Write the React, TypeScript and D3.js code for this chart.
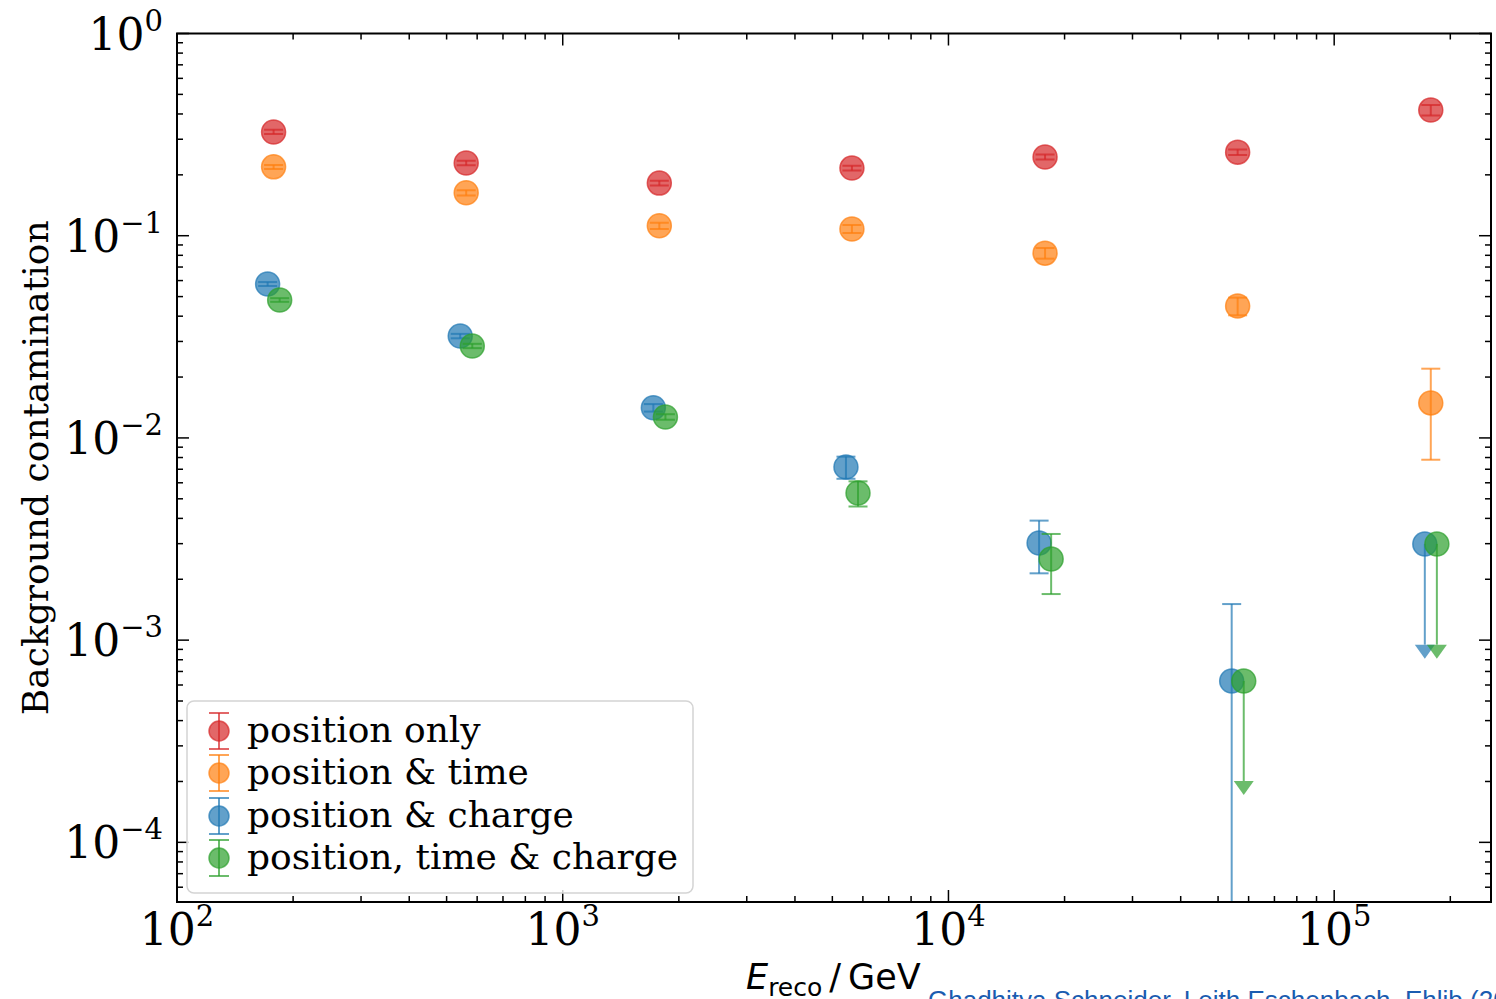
import React from "react";
import * as d3 from "d3";

// bin centres in GeV
const energies = [178, 562, 1780, 5620, 17800, 56200, 178000];

const seriesNames = [
  "position only",
  "position & time",
  "position & charge",
  "position, time & charge",
];
const seriesColors = ["#d62728", "#ff7f0e", "#1f77b4", "#2ca02c"];
// small horizontal offsets so the blue and green points do not overlap fully
const xShift = [1, 1, 0.965, 1.037];

const posOnly = [0.326, 0.229, 0.182, 0.216, 0.245, 0.259, 0.418];
const posOnlyErr = [0.008, 0.006, 0.005, 0.006, 0.007, 0.008, 0.025];

const posTime = [0.219, 0.163, 0.112, 0.108, 0.082, 0.0449, 0.0149];
const posTimeErr = [0.005, 0.005, 0.004, 0.005, 0.005, 0.0045, 0.0071];

const posCharge = [0.0577, 0.0319, 0.0141, 0.00718, 0.00302, 0.000628, 0.00299];
const posChargeErr = [0.0013, 0.0008, 0.0006, 0.0009, 0.00088, 0.00088, 0.00204];
const posChargeUL = [false, false, false, false, false, false, true];

const posTimeCharge = [0.0481, 0.0285, 0.0127, 0.00534, 0.00252, 0.000628, 0.00299];
const posTimeChargeErr = [0.001, 0.0007, 0.0004, 0.00076, 0.00083, 0.000427, 0.00204];
const posTimeChargeUL = [false, false, false, false, false, true, true];

const xTickExps = [2, 3, 4, 5];
const yTickExps = [0, -1, -2, -3, -4];

const series = [
  { vals: posOnly, errs: posOnlyErr, ul: posOnly.map(() => false) },
  { vals: posTime, errs: posTimeErr, ul: posTime.map(() => false) },
  { vals: posCharge, errs: posChargeErr, ul: posChargeUL },
  { vals: posTimeCharge, errs: posTimeChargeErr, ul: posTimeChargeUL },
];

const W = 1496;
const H = 999;
const left = 177;
const right = 1491;
const top = 33.5;
const bottom = 902;
const alpha = 0.7;

const x = d3.scaleLog().domain([100, 2.55e5]).range([left, right]);
const y = d3.scaleLog().domain([5.07e-5, 1]).range([bottom, top]);

const serif = "'DejaVu Serif', serif";
const sans = "'DejaVu Sans', sans-serif";
const expText = (e: number) => (e < 0 ? "\u2212" + -e : String(e));

function minorTicks(scale: d3.ScaleLogarithmic<number, number>) {
  const [a, b] = scale.domain();
  const out: number[] = [];
  for (let d = Math.floor(Math.log10(a)); d <= Math.ceil(Math.log10(b)); d++) {
    for (let k = 2; k <= 9; k++) {
      const v = k * Math.pow(10, d);
      if (v > a && v < b) out.push(v);
    }
  }
  return out;
}

function ErrorPoint({ cx, v, e, ul, color }: { cx: number; v: number; e: number; ul: boolean; color: string }) {
  const cy = y(v);
  const capW = 9.5;
  const ln = { stroke: color, strokeWidth: 2, strokeOpacity: alpha };
  const dot = (
    <circle cx={cx} cy={cy} r={12} fill={color} fillOpacity={alpha} stroke={color} strokeOpacity={alpha} strokeWidth={1.5} />
  );
  if (ul) {
    const ly = y(v - e);
    return (
      <g>
        <line x1={cx} x2={cx} y1={cy} y2={ly} {...ln} />
        <path d={`M${cx - 10},${ly}L${cx + 10},${ly}L${cx},${ly + 14}Z`} fill={color} fillOpacity={alpha} />
        {dot}
      </g>
    );
  }
  const hi = y(v + e);
  const lowVal = v - e;
  const lo = lowVal > 0 ? y(lowVal) : bottom + 50;
  return (
    <g>
      {dot}
      <line x1={cx} x2={cx} y1={hi} y2={lo} {...ln} />
      <line x1={cx - capW} x2={cx + capW} y1={hi} y2={hi} {...ln} />
      {lowVal > 0 && <line x1={cx - capW} x2={cx + capW} y1={lo} y2={lo} {...ln} />}
    </g>
  );
}

export default function App() {
  const xMinor = minorTicks(x);
  const yMinor = minorTicks(y);
  const legendRows = [731, 773, 816, 858];

  return (
    <svg
      width={W}
      height={H}
      style={{ position: "absolute", left: 0, top: 0, background: "#fff" }}
    >
      <defs>
        <clipPath id="plot">
          <rect x={left} y={top} width={right - left} height={bottom - top} />
        </clipPath>
      </defs>
      <rect width={W} height={H} fill="#fff" />

      {/* data */}
      <g clipPath="url(#plot)">
        {series.map((s, si) => (
          <g key={si}>
            {s.vals.map((v, i) => (
              <ErrorPoint
                key={i}
                cx={x(energies[i] * xShift[si])}
                v={v}
                e={s.errs[i]}
                ul={s.ul[i]}
                color={seriesColors[si]}
              />
            ))}
          </g>
        ))}
      </g>

      {/* ticks, inward on all sides */}
      <g stroke="#000" strokeWidth={1.5}>
        {xTickExps.map((e) => {
          const px = x(Math.pow(10, e));
          return (
            <g key={"xm" + e}>
              <line x1={px} x2={px} y1={bottom} y2={bottom - 12} />
              <line x1={px} x2={px} y1={top} y2={top + 12} />
            </g>
          );
        })}
        {xMinor.map((v) => (
          <g key={"xn" + v}>
            <line x1={x(v)} x2={x(v)} y1={bottom} y2={bottom - 6} />
            <line x1={x(v)} x2={x(v)} y1={top} y2={top + 6} />
          </g>
        ))}
        {yTickExps.map((e) => {
          const py = y(Math.pow(10, e));
          return (
            <g key={"ym" + e}>
              <line x1={left} x2={left + 12} y1={py} y2={py} />
              <line x1={right} x2={right - 12} y1={py} y2={py} />
            </g>
          );
        })}
        {yMinor.map((v) => (
          <g key={"yn" + v}>
            <line x1={left} x2={left + 6} y1={y(v)} y2={y(v)} />
            <line x1={right} x2={right - 6} y1={y(v)} y2={y(v)} />
          </g>
        ))}
      </g>
      <rect x={left} y={top} width={right - left} height={bottom - top} fill="none" stroke="#000" strokeWidth={2} />

      {/* tick labels */}
      {xTickExps.map((e) => (
        <text key={"xl" + e} x={x(Math.pow(10, e))} y={945} textAnchor="middle" fontFamily={serif} fontSize={44}>
          10<tspan dy={-19} fontSize={29}>{expText(e)}</tspan>
        </text>
      ))}
      {yTickExps.map((e) => (
        <text key={"yl" + e} x={163} y={y(Math.pow(10, e)) + 16} textAnchor="end" fontFamily={serif} fontSize={44}>
          10<tspan dy={-19} fontSize={29}>{expText(e)}</tspan>
        </text>
      ))}

      {/* axis labels */}
      <text
        transform={`translate(48,${(top + bottom) / 2}) rotate(-90)`}
        textAnchor="middle"
        fontFamily={serif}
        fontSize={36}
      >
        Background contamination
      </text>
      <text x={746} y={989} fontFamily={sans} fontSize={35}>
        <tspan fontStyle="italic">E</tspan>
        <tspan dy={7} fontSize={25}>reco</tspan>
        <tspan dy={-7} dx={7}>/</tspan>
        <tspan dx={7}>GeV</tspan>
      </text>

      {/* legend */}
      <rect x={187} y={701} width={506} height={192} rx={7} fill="#fff" fillOpacity={0.8} stroke="#d4d4d4" strokeWidth={1.5} />
      {seriesNames.map((name, i) => {
        const ry = legendRows[i];
        const c = seriesColors[i];
        const ln = { stroke: c, strokeWidth: 2, strokeOpacity: alpha };
        return (
          <g key={name}>
            <line x1={219} x2={219} y1={ry - 18} y2={ry + 18} {...ln} />
            <line x1={209} x2={229} y1={ry - 18} y2={ry - 18} {...ln} />
            <line x1={209} x2={229} y1={ry + 18} y2={ry + 18} {...ln} />
            <circle cx={219} cy={ry} r={10} fill={c} fillOpacity={alpha} stroke={c} strokeOpacity={alpha} strokeWidth={1.5} />
            <text x={247} y={ry + 11} fontFamily={serif} fontSize={36}>
              {name}
            </text>
          </g>
        );
      })}

      {/* cropped citation link, cut by the bottom edge as in the original */}
      <text x={928} y={1009} fontFamily="'Liberation Sans', Arial, sans-serif" fontSize={26} fill="#1a5cb0">
        Ghadhitya Schneider, Leith Eschenbach, Ehlib (2023)
      </text>
    </svg>
  );
}
